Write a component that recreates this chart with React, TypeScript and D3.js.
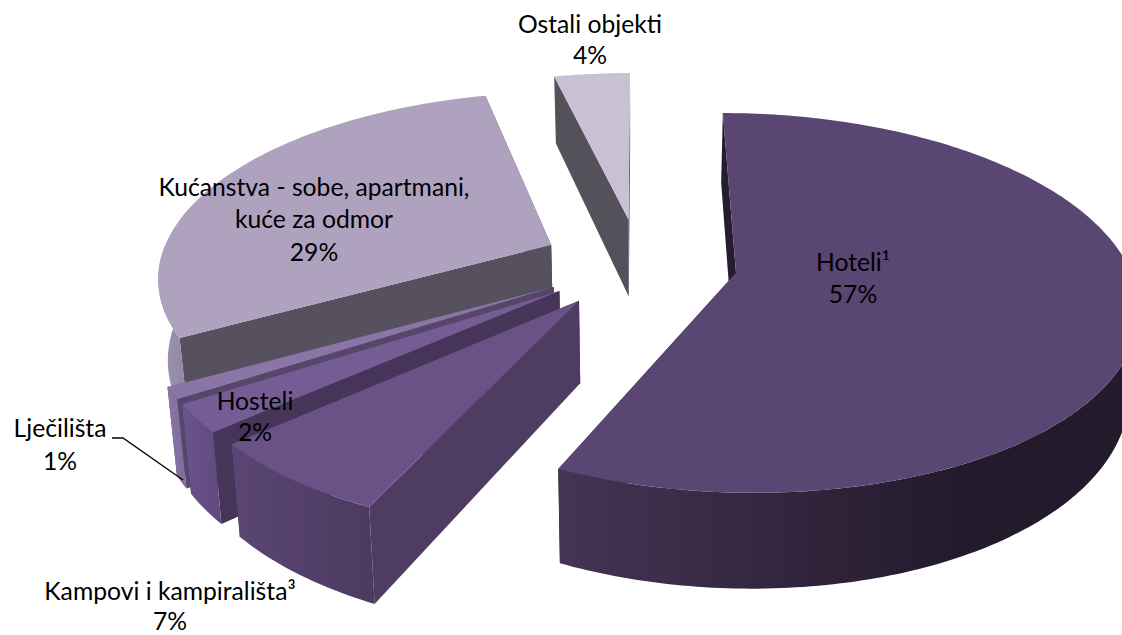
import React from "react";
import * as d3 from "d3";

const categories = ["Hoteli¹", "Kampovi i kampirališta³", "Hosteli", "Lječilišta", "Kućanstva - sobe, apartmani, kuće za odmor", "Ostali objekti"];
const shares = [56.9, 6.6, 2.4, 1.0, 29.4, 3.7];
const topColors = ["#5A4672", "#6A5287", "#755C95", "#8A76A6", "#AFA2BF", "#C9C0D5"];
const wallColors = ["#261C30", "#4F3C63", "#463558", "#55466A", "#57505E", "#55515A"];
const rimLeft = ["#453454", "#5A4574", "#6A5489", "#8A76A6", "#A196B0", "#B0A6BC"];
const rimRight = ["#231A2C", "#4C3A5F", "#60497E", "#7F6B9B", "#8F859E", "#A096AE"];
const paintOrder = [5, 4, 3, 2, 1, 0];

const explode = 0.25;
const vx = 639.5, y0 = 263, A = 392, B = 182, k = 0.157, depth = 80, shrink = 0.98;

type P = [number, number];
const project = (X: number, Y: number, low: boolean): P => {
  const p = 1 / (1 + k * Y);
  const sx = A * X * p;
  const sy = y0 - B * Y * p;
  return low ? [vx + sx * shrink, sy + depth * p] : [vx + sx, sy];
};

const pieGen = d3.pie<number>().sort(null).value((d) => d);
const arcs = pieGen(shares);
const path = d3.line<P>();

function Slice({ i }: { i: number }) {
  const a = arcs[i];
  const mid = (a.startAngle + a.endAngle) / 2;
  const cx = explode * Math.sin(mid);
  const cy = explode * Math.cos(mid);
  const rim = (t: number, low: boolean) => project(cx + Math.sin(t), cy + Math.cos(t), low);
  const sample = (t0: number, t1: number) => {
    const n = Math.max(4, Math.ceil((t1 - t0) * 60));
    return d3.range(n + 1).map((j) => t0 + ((t1 - t0) * j) / n);
  };
  const topRim = sample(a.startAngle, a.endAngle).map((t) => rim(t, false));
  const f0 = Math.max(a.startAngle, Math.PI / 2);
  const f1 = Math.min(a.endAngle, (3 * Math.PI) / 2);
  const front = f1 > f0 ? sample(f0, f1) : [];
  const apexTop = project(cx, cy, false);
  const apexLow = project(cx, cy, true);
  const wall = (t: number): P[] => [apexTop, rim(t, false), rim(t, true), apexLow];
  const fillWall = wallColors[i];
  return (
    <g>
      <path d={path(wall(a.startAngle)) + "Z"} fill={fillWall} />
      <path d={path(wall(a.endAngle)) + "Z"} fill={fillWall} />
      {front.length > 0 && (
        <path
          d={path([...front.map((t) => rim(t, false)), ...front.slice().reverse().map((t) => rim(t, true))]) + "Z"}
          fill={`url(#rim${i})`}
        />
      )}
      <path d={path([apexTop, ...topRim]) + "Z"} fill={topColors[i]} />
    </g>
  );
}

const font = "Lato, 'Noto Sans', sans-serif";
const labelRows: { text: string; x: number; y: number }[] = [
  { text: "Ostali objekti", x: 590, y: 33 },
  { text: "4%", x: 590, y: 64 },
  { text: "Kućanstva - sobe, apartmani,", x: 314, y: 196 },
  { text: "kuće za odmor", x: 314, y: 228 },
  { text: "29%", x: 314, y: 261 },
  { text: "Hoteli¹", x: 853, y: 271 },
  { text: "57%", x: 853, y: 303 },
  { text: "Hosteli", x: 255, y: 410 },
  { text: "2%", x: 255, y: 441 },
  { text: "Lječilišta", x: 60, y: 437 },
  { text: "1%", x: 60, y: 470 },
  { text: "Kampovi i kampirališta³", x: 170, y: 600 },
  { text: "7%", x: 170, y: 630 },
];

export default function App() {
  return (
    <svg
      width={1122}
      height={635}
      style={{ position: "absolute", left: 0, top: 0, display: "block", overflow: "hidden", background: "#fff" }}
    >
      <defs>
        {shares.map((_, i) => (
          <linearGradient key={i} id={`rim${i}`} x1="0" x2="1" y1="0" y2="0">
            <stop offset="0" stopColor={rimLeft[i]} />
            <stop offset={i === 0 ? "0.7" : "1"} stopColor={rimRight[i]} />
          </linearGradient>
        ))}
      </defs>
      {paintOrder.map((i) => (
        <Slice key={categories[i]} i={i} />
      ))}
      <path d="M112,438 L123,438 L183,480" fill="none" stroke="#000" strokeWidth={1.3} />
      {labelRows.map((r) => (
        <text key={r.text} x={r.x} y={r.y} textAnchor="middle" fontFamily={font} fontSize={24.7} fill="#000">
          {r.text}
        </text>
      ))}
    </svg>
  );
}
